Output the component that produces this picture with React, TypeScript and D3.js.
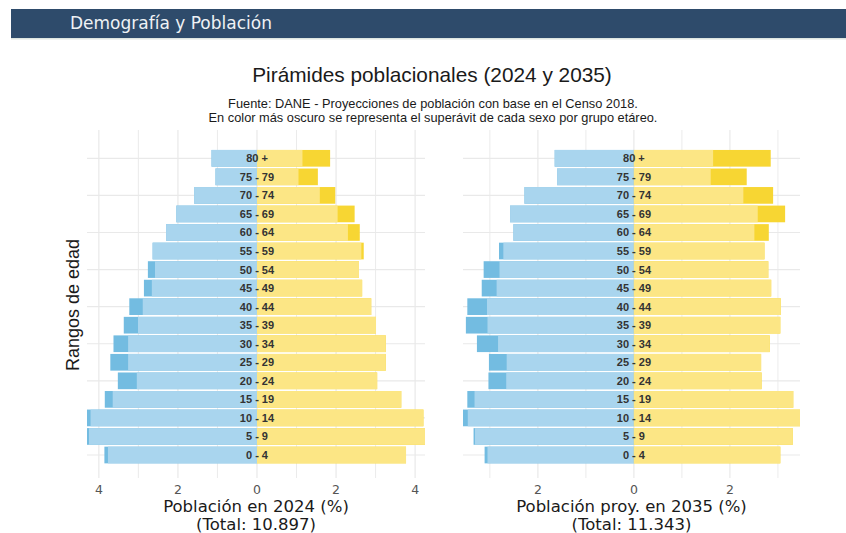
import * as d3 from "d3";

// grupos etáreos, de abajo hacia arriba
const ageGroups = [
  "0 - 4", "5 - 9", "10 - 14", "15 - 19", "20 - 24", "25 - 29", "30 - 34", "35 - 39",
  "40 - 44", "45 - 49", "50 - 54", "55 - 59", "60 - 64", "65 - 69", "70 - 74", "75 - 79", "80 +",
];

// % de la población total
const hombres2024 = [3.86, 4.30, 4.30, 3.85, 3.52, 3.71, 3.63, 3.37, 3.23, 2.86, 2.76, 2.64, 2.30, 2.04, 1.59, 1.05, 1.15];
const mujeres2024 = [3.77, 4.25, 4.21, 3.65, 3.04, 3.26, 3.26, 3.01, 2.89, 2.66, 2.58, 2.70, 2.60, 2.47, 1.98, 1.54, 1.85];
const hombres2035 = [3.11, 3.34, 3.56, 3.47, 3.03, 3.02, 3.27, 3.50, 3.47, 3.17, 3.13, 2.81, 2.51, 2.58, 2.28, 1.60, 1.65];
const mujeres2035 = [3.05, 3.31, 3.46, 3.32, 2.66, 2.65, 2.83, 3.05, 3.06, 2.86, 2.80, 2.72, 2.81, 3.15, 2.90, 2.35, 2.85];

const ticks2024 = [-4, -2, 0, 2, 4];
const ticks2035 = [-2, 0, 2];

const W = 846;
const H = 533;
const panelTop = 130;
const panelBottom = 478;
const barH = 16.7;

const col = {
  hLight: "#a9d5ee",
  hDark: "#73bce1",
  mLight: "#fce685",
  mDark: "#f7d633",
  grid: "#e9e9e9",
};

const y = d3.scalePoint<string>().domain(ageGroups).range([455, 158.3]);

interface PyramidProps {
  hombres: number[];
  mujeres: number[];
  left: number;
  right: number;
  ticks: number[];
  titulo: string;
  total: string;
}

const Pyramid = ({ hombres, mujeres, left, right, ticks, titulo, total }: PyramidProps) => {
  const x = d3
    .scaleLinear()
    .domain([-(d3.max(hombres) as number), d3.max(mujeres) as number])
    .range([left, right]);
  const [d0, d1] = x.domain();
  const gridX = d3.range(Math.ceil(d0), Math.floor(d1) + 1);
  const cx = (left + right) / 2;

  return (
    <g>
      {/* rejilla */}
      {gridX.map((v) => (
        <line
          key={"v" + v}
          x1={x(v)}
          x2={x(v)}
          y1={panelTop}
          y2={panelBottom}
          stroke={col.grid}
          strokeWidth={ticks.includes(v) ? 1.2 : 0.9}
        />
      ))}
      {ageGroups
        .filter((_, i) => i % 2 === 0)
        .map((a) => (
          <line key={"h" + a} x1={left} x2={right} y1={y(a)} y2={y(a)} stroke={col.grid} strokeWidth={1.2} />
        ))}

      {/* barras */}
      {ageGroups.map((a, i) => {
        const m = hombres[i];
        const f = mujeres[i];
        const lo = Math.min(m, f);
        const yy = (y(a) as number) - barH / 2;
        return (
          <g key={a}>
            <rect x={x(-m)} y={yy} width={x(0) - x(-m)} height={barH} fill={col.hDark} />
            <rect x={x(-lo)} y={yy} width={x(0) - x(-lo)} height={barH} fill={col.hLight} />
            <rect x={x(0)} y={yy} width={x(f) - x(0)} height={barH} fill={col.mDark} />
            <rect x={x(0)} y={yy} width={x(lo) - x(0)} height={barH} fill={col.mLight} />
            <text
              x={x(0)}
              y={y(a)}
              dy="0.36em"
              textAnchor="middle"
              fontFamily="Liberation Sans, Arial, sans-serif"
              fontWeight="bold"
              fontSize={11}
              fill="#333"
            >
              {a}
            </text>
          </g>
        );
      })}

      {/* eje x */}
      {ticks.map((t) => (
        <text
          key={"t" + t}
          x={x(t)}
          y={494}
          textAnchor="middle"
          fontFamily="DejaVu Sans, Verdana, sans-serif"
          fontSize={12.5}
          fill="#555"
        >
          {Math.abs(t)}
        </text>
      ))}
      <text x={cx} y={512} textAnchor="middle" fontFamily="DejaVu Sans, Verdana, sans-serif" fontSize={16.5} fill="#1a1a1a">
        {titulo}
      </text>
      <text x={cx} y={530} textAnchor="middle" fontFamily="DejaVu Sans, Verdana, sans-serif" fontSize={16.5} fill="#1a1a1a">
        {total}
      </text>
    </g>
  );
};

export default function App() {
  return (
    <svg width={W} height={H} style={{ position: "absolute", left: 0, top: 0, background: "#fff" }}>
      {/* encabezado */}
      <rect x={11} y={9} width={W - 11} height={29} fill="#2e4b6b" />
      <rect x={11} y={38} width={W - 11} height={1.5} fill="#dde5e0" />
      <text x={70} y={29} fontFamily="DejaVu Sans, Verdana, sans-serif" fontSize={17} fill="#eef2f5">
        Demografía y Población
      </text>

      <text x={432} y={82} textAnchor="middle" fontFamily="Liberation Sans, Arial, sans-serif" fontSize={20.8} fill="#1a1a1a">
        Pirámides poblacionales (2024 y 2035)
      </text>
      <text x={433} y={107.5} textAnchor="middle" fontFamily="Liberation Sans, Arial, sans-serif" fontSize={12.8} fill="#1a1a1a">
        Fuente: DANE - Proyecciones de población con base en el Censo 2018.
      </text>
      <text x={433} y={121.5} textAnchor="middle" fontFamily="Liberation Sans, Arial, sans-serif" fontSize={12.8} fill="#1a1a1a">
        En color más oscuro se representa el superávit de cada sexo por grupo etáreo.
      </text>

      <text
        transform="translate(79,305) rotate(-90)"
        textAnchor="middle"
        fontFamily="Liberation Sans, Arial, sans-serif"
        fontSize={18}
        fill="#1a1a1a"
      >
        Rangos de edad
      </text>

      <Pyramid
        hombres={hombres2024}
        mujeres={mujeres2024}
        left={87}
        right={425}
        ticks={ticks2024}
        titulo="Población en 2024 (%)"
        total="(Total: 10.897)"
      />
      <Pyramid
        hombres={hombres2035}
        mujeres={mujeres2035}
        left={463}
        right={800}
        ticks={ticks2035}
        titulo="Población proy. en 2035 (%)"
        total="(Total: 11.343)"
      />
    </svg>
  );
}
